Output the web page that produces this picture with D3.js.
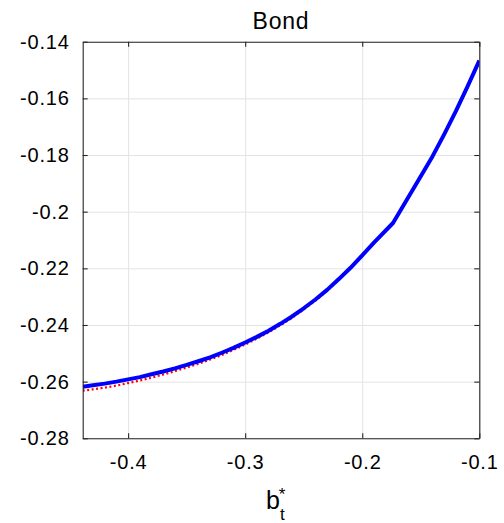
<!DOCTYPE html>
<html>
<head>
<meta charset="utf-8">
<script src="https://cdn.jsdelivr.net/npm/d3@7"></script>
<style>
  html, body { margin: 0; padding: 0; background: #fff; }
  svg { display: block; }
  text { font-family: "Liberation Sans", Arial, Helvetica, sans-serif; fill: #000; }
</style>
</head>
<body>
<svg id="chart" width="504" height="523"></svg>
<script>
// Grid of bond holdings b*_t
const bondGrid = [-0.4388, -0.43, -0.42, -0.41, -0.40, -0.39, -0.38, -0.37, -0.36, -0.35, -0.34, -0.33,
                  -0.32, -0.31, -0.30, -0.29, -0.28, -0.27, -0.26, -0.25, -0.24, -0.23, -0.22, -0.21,
                  -0.20, -0.19, -0.1737, -0.16, -0.15, -0.14, -0.13, -0.12, -0.11, -0.10];
// Bond policy, solid blue
const policyExact = [-0.2618, -0.2613, -0.2607, -0.2600, -0.2592, -0.2584, -0.2574, -0.2564, -0.2553, -0.2541, -0.2528, -0.2514,
                     -0.2498, -0.2481, -0.2462, -0.2442, -0.2420, -0.2396, -0.2370, -0.2341, -0.2310, -0.2276, -0.2238, -0.2198,
                     -0.2154, -0.2109, -0.2040, -0.1945, -0.1875, -0.1805, -0.1727, -0.1645, -0.1558, -0.1467];
// Bond policy, dotted red
const policyApprox = [-0.2632, -0.2627, -0.2621, -0.2614, -0.2605, -0.2596, -0.2586, -0.2575, -0.2563, -0.2550, -0.2537, -0.2522,
                      -0.2506, -0.2488, -0.2469, -0.2448, -0.2426, -0.2401, -0.2375, -0.2345, -0.2314, -0.2279, -0.2241, -0.2200,
                      -0.2156, -0.2110, -0.2040, -0.1945, -0.1875, -0.1805, -0.1727, -0.1645, -0.1558, -0.1467];

const xTickValues = [-0.4, -0.3, -0.2, -0.1];
const xTickLabels = ["-0.4", "-0.3", "-0.2", "-0.1"];
const yTickValues = [-0.28, -0.26, -0.24, -0.22, -0.20, -0.18, -0.16, -0.14];
const yTickLabels = ["-0.28", "-0.26", "-0.24", "-0.22", "-0.2", "-0.18", "-0.16", "-0.14"];

const plot = { left: 82.7, right: 479.3, top: 41.7, bottom: 438.3 };
const width = plot.right - plot.left;
const height = plot.bottom - plot.top;

const svg = d3.select("#chart");

const x = d3.scaleLinear().domain([-0.4388, -0.1]).range([0, width]);
const y = d3.scaleLinear().domain([-0.28, -0.14]).range([height, 0]);

const g = svg.append("g").attr("transform", `translate(${plot.left},${plot.top})`);

// Grid lines
const gridX = g.append("g")
  .attr("transform", `translate(0,${height})`)
  .call(d3.axisBottom(x).tickValues(xTickValues).tickSize(-height).tickFormat(""));
const gridY = g.append("g")
  .call(d3.axisLeft(y).tickValues(yTickValues).tickSize(-width).tickFormat(""));
[gridX, gridY].forEach(a => {
  a.select(".domain").remove();
  a.selectAll(".tick line").attr("stroke", "#e3e3e3").attr("stroke-width", 1);
});

// Curves, clipped to the axes box
svg.append("defs").append("clipPath").attr("id", "plotClip")
  .append("rect").attr("x", 0).attr("y", 0).attr("width", width).attr("height", height);

const rows = bondGrid.map((b, i) => ({ b, exact: policyExact[i], approx: policyApprox[i] }));

const lineApprox = d3.line().x(d => x(d.b)).y(d => y(d.approx)).curve(d3.curveLinear);
const lineExact = d3.line().x(d => x(d.b)).y(d => y(d.exact)).curve(d3.curveLinear);

const curves = g.append("g").attr("clip-path", "url(#plotClip)");
curves.append("path")
  .datum(rows)
  .attr("d", lineApprox)
  .attr("fill", "none")
  .attr("stroke", "#ff0000")
  .attr("stroke-width", 2.2)
  .attr("stroke-dasharray", "2,2.5");
curves.append("path")
  .datum(rows)
  .attr("d", lineExact)
  .attr("fill", "none")
  .attr("stroke", "#0000ff")
  .attr("stroke-width", 4)
  .attr("stroke-linejoin", "round");

// Axes with inward ticks on all four sides
const axisColor = "#262626";
const tickLen = 5;
function styleAxis(a) {
  a.select(".domain").attr("stroke", axisColor).attr("stroke-width", 1.1);
  a.selectAll(".tick line").attr("stroke", axisColor).attr("stroke-width", 1.1);
}

const axBottom = g.append("g")
  .attr("transform", `translate(0,${height})`)
  .call(d3.axisBottom(x).tickValues(xTickValues).tickSizeInner(-tickLen).tickSizeOuter(0)
    .tickPadding(17).tickFormat((d, i) => xTickLabels[i]));
styleAxis(axBottom);
axBottom.selectAll(".tick text")
  .attr("font-size", 20).attr("letter-spacing", "0.8px")
  .attr("font-family", "'Liberation Sans', Arial, sans-serif").attr("fill", "#000");

const axTop = g.append("g")
  .call(d3.axisTop(x).tickValues(xTickValues).tickSizeInner(-tickLen).tickSizeOuter(0).tickFormat(""));
styleAxis(axTop);

const axLeft = g.append("g")
  .call(d3.axisLeft(y).tickValues(yTickValues).tickSizeInner(-tickLen).tickSizeOuter(0)
    .tickPadding(13).tickFormat((d, i) => yTickLabels[i]));
styleAxis(axLeft);
axLeft.selectAll(".tick text")
  .attr("font-size", 20).attr("letter-spacing", "0.8px")
  .attr("font-family", "'Liberation Sans', Arial, sans-serif").attr("fill", "#000");

const axRight = g.append("g")
  .attr("transform", `translate(${width},0)`)
  .call(d3.axisRight(y).tickValues(yTickValues).tickSizeInner(-tickLen).tickSizeOuter(0).tickFormat(""));
styleAxis(axRight);

// Title
svg.append("text")
  .attr("x", (plot.left + plot.right) / 2)
  .attr("y", 29)
  .attr("text-anchor", "middle")
  .attr("font-size", 23)
  .attr("letter-spacing", "0.8px")
  .text("Bond");

// x-axis label: b*_t
const xl = svg.append("text")
  .attr("x", 266)
  .attr("y", 509)
  .attr("font-size", 25);
xl.append("tspan").text("b");
xl.append("tspan").attr("font-size", 17).attr("dy", 11).text("t");
xl.append("tspan").attr("font-size", 17).attr("dx", -6).attr("dy", -20).text("*");
</script>
</body>
</html>
